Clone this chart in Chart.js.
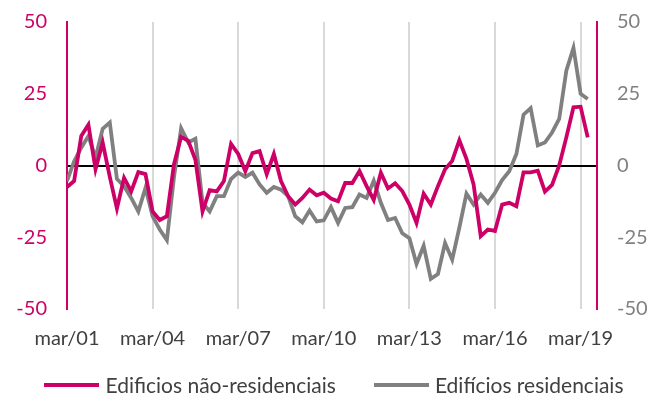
<!DOCTYPE html>
<html>
<head>
<meta charset="utf-8">
<script src="https://cdn.jsdelivr.net/npm/chart.js@4/dist/chart.umd.min.js"></script>
<style>
  body { margin: 0; background: #fff; }
  #wrap { position: relative; width: 668px; height: 401px; }
  #legend {
    position: absolute; left: 0; top: 372px; width: 668px;
    display: flex; justify-content: center; align-items: center;
    font-family: Lato, sans-serif; font-size: 21px; color: #404040;
  }
  .item { display: flex; align-items: center; margin: 0 19px; }
  .bar { width: 55px; height: 4px; margin-right: 6px; }
</style>
</head>
<body>
<div id="wrap">
  <canvas id="chart" width="668" height="401"></canvas>
  <div id="legend"></div>
</div>
<script>
// quarterly, mar/01 .. jun/19
const tickIndex = [0, 12, 24, 36, 48, 60, 72];
const tickLabels = ['mar/01', 'mar/04', 'mar/07', 'mar/10', 'mar/13', 'mar/16', 'mar/19'];
const yTicks = [-50, -25, 0, 25, 50];

const naoResidenciais = [
    -7.5, -5.4, 10.3, 14.2, -1.3, 8, -4, -15, -4.3, -9, -2.3, -3,
    -16, -19, -17.7, 0.5, 10, 8.6, 2, -16, -8.6, -9, -5.4, 7.5,
    4, -2, 4.3, 5, -3, 4, -5.4, -10.7, -13.6, -11.3, -8.4, -10.4,
    -9.5, -11.5, -12.5, -6.1, -6.1, -1.9, -7.2, -12, -2.5, -8, -6.2, -8.9,
    -13.6, -20, -9.8, -13.6, -7.2, -1.3, 1.6, 8.8, 2.3, -6.6, -24.6, -22.3,
    -22.8, -13.6, -13, -14.2, -2.4, -2.4, -1.8, -9.1, -6.8, 0, 9.8, 20.3,
    20.5, 9.8
];
const residenciais = [
    -5.4, 1.5, 6.2, 10.3, 2.7, 12.8, 15, -4.7, -7.2, -11.3, -16, -7.8,
    -17.7, -22.3, -26, -4, 13, 8, 9.3, -13, -16, -10.7, -10.7, -4.7,
    -2.5, -4, -2.5, -6.6, -9.5, -7.5, -8.4, -10.7, -17.7, -19.8, -15.7, -19.5,
    -19.1, -14.5, -20, -14.8, -14.5, -10.1, -11.3, -5.3, -13, -19, -18.3, -23.6,
    -25.3, -34.3, -28, -39.5, -37.8, -27, -32.8, -21.7, -9.8, -13.6, -10.1, -13,
    -9.5, -5.1, -2, 4, 17.7, 20, 7, 8, 11.5, 16.2, 33, 41,
    25, 23.2
];

const pink = '#cc0066';
const grey = '#808080';

function toPoints(values) {
    return values.map((v, i) => ({ x: i, y: v }));
}

const series = [
    { label: 'Edificios não-residenciais', data: naoResidenciais, color: pink },
    { label: 'Edifícios residenciais', data: residenciais, color: grey }
];

const tickFont = { family: 'Lato', size: 20 };

new Chart(document.getElementById('chart'), {
    type: 'line',
    data: {
        datasets: series.map(s => ({
            label: s.label,
            data: toPoints(s.data),
            borderColor: s.color,
            backgroundColor: s.color,
            borderWidth: 3.8,
            pointRadius: 0,
            tension: 0,
            yAxisID: 'y'
        }))
    },
    options: {
        responsive: false,
        animation: false,
        layout: { padding: { top: 22, left: 0, right: 0, bottom: 0 } },
        plugins: { legend: { display: false }, tooltip: { enabled: false } },
        scales: {
            x: {
                type: 'linear',
                min: 0,
                max: 74.3,
                afterBuildTicks: scale => { scale.ticks = tickIndex.map(v => ({ value: v })); },
                afterFit: scale => { scale.height = 92; },
                ticks: {
                    font: tickFont,
                    color: '#404040',
                    padding: 18,
                    maxRotation: 0,
                    autoSkip: false,
                    callback: value => tickLabels[tickIndex.indexOf(value)]
                },
                grid: {
                    drawTicks: false,
                    lineWidth: 2,
                    color: ctx => (ctx.tick && ctx.tick.value === 0) ? 'transparent' : '#d9d9d9'
                },
                border: { display: false }
            },
            y: {
                position: 'left',
                min: -50,
                max: 50,
                afterBuildTicks: scale => { scale.ticks = yTicks.map(v => ({ value: v })); },
                afterFit: scale => { scale.width = 67; },
                ticks: { font: tickFont, color: pink, padding: 0 },
                grid: {
                    drawTicks: true,
                    tickLength: 20,
                    tickColor: 'transparent',
                    lineWidth: 2,
                    color: ctx => (ctx.tick && ctx.tick.value === 0) ? '#000' : 'transparent'
                },
                border: { color: pink, width: 2 }
            },
            y2: {
                position: 'right',
                min: -50,
                max: 50,
                afterBuildTicks: scale => { scale.ticks = yTicks.map(v => ({ value: v })); },
                afterFit: scale => { scale.width = 71; },
                ticks: { font: tickFont, color: grey, padding: 0 },
                grid: {
                    drawOnChartArea: false,
                    drawTicks: true,
                    tickLength: 20,
                    tickColor: 'transparent'
                },
                border: { color: pink, width: 2 }
            }
        }
    }
});

// legend
const legend = document.getElementById('legend');
series.forEach(s => {
    const item = document.createElement('div');
    item.className = 'item';
    const bar = document.createElement('span');
    bar.className = 'bar';
    bar.style.background = s.color;
    const text = document.createElement('span');
    text.textContent = s.label;
    item.appendChild(bar);
    item.appendChild(text);
    legend.appendChild(item);
});
</script>
</body>
</html>
